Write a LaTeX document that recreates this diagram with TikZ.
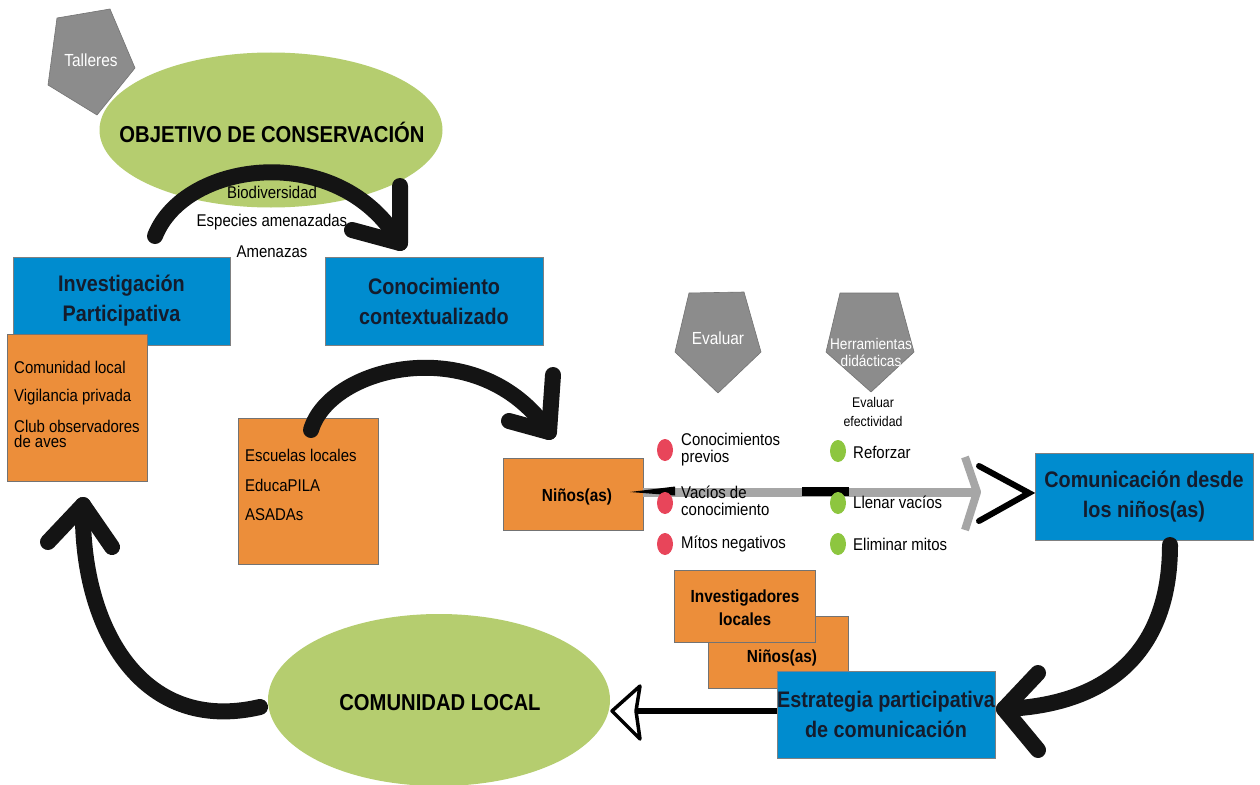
\documentclass[tikz,border=0pt]{standalone}
\usepackage{fontspec}
\setmainfont{Liberation Sans}[FakeStretch=0.88]
\usetikzlibrary{shapes.geometric}
\definecolor{boxblue}{RGB}{0,140,207}
\definecolor{boxorange}{RGB}{236,142,58}
\definecolor{ellgreen}{RGB}{181,205,111}
\definecolor{pentgrey}{RGB}{140,140,140}
\definecolor{dotred}{RGB}{232,69,90}
\definecolor{dotgreen}{RGB}{141,198,63}
\definecolor{textdark}{RGB}{20,28,45}
\begin{document}
\begin{tikzpicture}[x=1pt,y=-1pt,
  bluebox/.style={draw=black!50,line width=0.8pt,fill=boxblue,inner sep=0pt,align=center,text=textdark,font=\fontsize{22.5}{30}\selectfont\bfseries},
  orangebox/.style={draw=black!55,line width=0.8pt,fill=boxorange,inner sep=0pt},
  ellbox/.style={ellipse,fill=ellgreen,inner sep=0pt},
  elltext/.style={inner sep=0pt,font=\fontsize{23}{28}\selectfont\bfseries},
  pent/.style={fill=pentgrey,draw=black!55,line width=0.6pt,line join=round},
  penttext/.style={text=white,inner sep=0pt,align=center},
  txt/.style={inner sep=0pt,font=\fontsize{17}{17}\selectfont,align=left},
  boldtxt/.style={inner sep=0pt,font=\fontsize{17.5}{23}\selectfont\bfseries,align=center},
  arcline/.style={line width=16pt,line cap=round,line join=round,draw=black!92},
  reddot/.style={fill=dotred},
  greendot/.style={fill=dotgreen}
]
\useasboundingbox (0,0) rectangle (1260,784);
\fill[white] (0,0) rectangle (1260,784);
\clip (0,0) rectangle (1260,784);

% objective ellipse and Talleres pentagon
\node[ellbox,minimum width=343pt,minimum height=155pt] (obj) at (271,130) {};
\node[elltext] (objt) at (272,132) {OBJETIVO DE CONSERVACIÓN};
\draw[pent] (57,18) -- (110,9) -- (135,68) -- (97,115) -- (48,85) -- cycle;
\node[penttext,font=\fontsize{17.5}{20}\selectfont] (tall) at (91,60) {Talleres};

% top blue boxes
\node[bluebox,minimum width=217pt,minimum height=88pt] (inv) at (121.5,301) {Investigación\\Participativa};
\node[bluebox,minimum width=218pt,minimum height=88pt] (con) at (434,301) {Conocimiento\\contextualizado};

% left orange box
\node[orangebox,minimum width=140pt,minimum height=147pt] (o1) at (77,407.5) {};
\node[txt,anchor=west] (t1) at (14,367) {Comunidad local};
\node[txt,anchor=west] (t2) at (14,397) {Vigilancia privada};
\node[txt,anchor=west,font=\fontsize{17}{15}\selectfont] (t3) at (14,434) {Club observadores\\de aves};

% arc 1
\coordinate (a1s) at (155,236);
\coordinate (a1t) at (400,243);
\coordinate (a1u) at (400,186);
\coordinate (a1l) at (352,230);
\draw[arcline] (a1s) .. controls (185,160) and (340,140) .. (a1t);
\draw[arcline] (a1u) -- (a1t) -- (a1l);
\node[txt] (bio) at (272,192) {Biodiversidad};
\node[txt] (esp) at (272,222) {Especies amenazadas};
\node[txt] (ame) at (272,252) {Amenazas};

% escuelas box and arc 2
\node[orangebox,minimum width=140pt,minimum height=146pt] (esc) at (308,491) {};
\node[txt,anchor=west] (e1) at (245,455) {Escuelas locales};
\node[txt,anchor=west] (e2) at (245,485) {EducaPILA};
\node[txt,anchor=west] (e3) at (245,515) {ASADAs};
\coordinate (a2s) at (311,430);
\coordinate (a2t) at (549,432);
\coordinate (a2u) at (553,375);
\coordinate (a2l) at (509,421);
\draw[arcline] (a2s) .. controls (330,365) and (480,330) .. (a2t);
\draw[arcline] (a2u) -- (a2t) -- (a2l);

% ninos box and arrow to comunicacion
\node[orangebox,minimum width=140pt,minimum height=72pt] (nin) at (573,494) {};
\node[boldtxt] (nint) at (577,497) {Niños(as)};
\node[bluebox,minimum width=218pt,minimum height=87pt] (com) at (1144,496.5) {Comunicación desde\\los niños(as)};
\coordinate (gtip) at (977,492);
\draw[line width=9pt,draw=black!35] (nin.east |- gtip) -- (gtip);
\fill[black] (630,492) -- (675,486.5) -- (675,495.5) -- cycle;
\fill[black] (802,487) rectangle (849,496);
\draw[line width=8pt,draw=black!35,line join=round] (965,457) -- (gtip) -- (965,530);
\coordinate (btip) at (1029,493);
\draw[line width=6pt,line join=miter,line cap=round] (979,466) -- (btip) -- (979,521);

% evaluar pentagons
\draw[pent] (689,293) -- (744,292) -- (761,352) -- (718,393) -- (675,352) -- cycle;
\node[penttext,font=\fontsize{17.5}{20}\selectfont] (evp) at (718,338) {Evaluar};
\draw[pent] (840,293) -- (898,293) -- (914,352) -- (871,392) -- (826,352) -- cycle;
\node[penttext,font=\fontsize{15.5}{17}\selectfont] (herp) at (871,352) {Herramientas\\didácticas};
\node[txt,align=center,font=\fontsize{14}{19}\selectfont] (eve) at (873,412) {Evaluar\\efectividad};

% dots and texts
\fill[reddot] (665,450) ellipse [x radius=8, y radius=11];
\fill[reddot] (665,503) ellipse [x radius=8, y radius=11];
\fill[reddot] (665,544) ellipse [x radius=8, y radius=11];
\fill[greendot] (838,451) ellipse [x radius=8, y radius=11];
\fill[greendot] (838,503) ellipse [x radius=8, y radius=11];
\fill[greendot] (838,544) ellipse [x radius=8, y radius=11];
\node[txt,anchor=west] (r1) at (681,449.5) {Conocimientos\\previos};
\node[txt,anchor=west] (r2) at (681,500.5) {Vacíos de\\conocimiento};
\node[txt,anchor=west] (r3) at (681,544) {Mítos negativos};
\node[txt,anchor=west] (g1) at (853,452) {Reforzar};
\node[txt,anchor=west] (g2) at (853,502) {Llenar vacíos};
\node[txt,anchor=west] (g3) at (853,544) {Eliminar mitos};

% arc 3
\coordinate (a3s) at (1170,545);
\coordinate (a3t) at (1004,709);
\coordinate (a3u) at (1038,673);
\coordinate (a3l) at (1038,750);
\draw[arcline] (a3s) .. controls (1170,650) and (1110,705) .. (a3t);
\draw[arcline] (a3u) -- (a3t) -- (a3l);

% bottom boxes
\node[orangebox,minimum width=140pt,minimum height=72pt] (nin2) at (778,652) {};
\node[boldtxt] (nin2t) at (782,658) {Niños(as)};
\node[orangebox,minimum width=141pt,minimum height=72pt] (invloc) at (744.5,606) {};
\node[boldtxt] (invloct) at (745,608) {Investigadores\\locales};
\node[bluebox,minimum width=218pt,minimum height=87pt] (est) at (886,714.5) {Estrategia participativa\\de comunicación};

% comunidad ellipse and arrow
\node[ellbox,minimum width=342pt,minimum height=172pt] (comu) at (439,700) {};
\node[elltext] (comut) at (440,703) {COMUNIDAD LOCAL};
\coordinate (ctip) at (612,711);
\coordinate (cback) at (636,711);
\draw[line width=6pt] (est.west |- ctip) -- (cback);
\draw[line width=3.5pt,fill=white,line join=round] (ctip) -- (640,686) -- (636,711) -- (640,739) -- cycle;

% arc 4
\coordinate (a4s) at (260,707);
\coordinate (a4t) at (83,505);
\coordinate (a4u) at (48,542);
\coordinate (a4l) at (112,547);
\draw[arcline] (a4s) .. controls (140,735) and (80,625) .. (a4t);
\draw[arcline] (a4u) -- (a4t) -- (a4l);
\end{tikzpicture}
\end{document}
